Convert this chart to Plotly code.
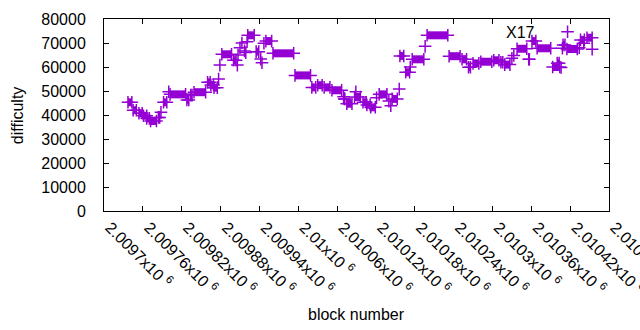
import plotly.graph_objects as go

# Segments of constant difficulty (first block, last block, difficulty)
seg_start = [2009737, 2009745, 2009754, 2009761, 2009766, 2009772, 2009784, 2009788, 2009792, 2009800,
             2009802, 2009828, 2009834, 2009839, 2009860, 2009865, 2009870, 2009877, 2009879, 2009882,
             2009900, 2009906, 2009907, 2009910, 2009913, 2009917, 2009919, 2009921, 2009922, 2009935,
             2009942, 2009944, 2009947, 2009950, 2009961, 2009995, 2010021, 2010030, 2010040, 2010052,
             2010070, 2010071, 2010075, 2010089, 2010087, 2010100, 2010106, 2010112, 2010121, 2010125,
             2010140, 2010143, 2010145, 2010156, 2010157, 2010166, 2010173, 2010176, 2010196, 2010199,
             2010233, 2010253, 2010263, 2010270, 2010282, 2010302, 2010313, 2010319, 2010330, 2010333,
             2010338, 2010356, 2010361, 2010369, 2010393, 2010400, 2010406, 2010408, 2010409, 2010415,
             2010416, 2010434, 2010436, 2010441, 2010446, 2010454]
seg_end = [2009743, 2009750, 2009759, 2009766, 2009770, 2009781, 2009786, 2009788, 2009797, 2009800,
           2009826, 2009831, 2009836, 2009857, 2009864, 2009869, 2009875, 2009877, 2009879, 2009897,
           2009904, 2009906, 2009907, 2009910, 2009913, 2009917, 2009919, 2009921, 2009932, 2009939,
           2009942, 2009944, 2009947, 2009959, 2009993, 2010019, 2010027, 2010037, 2010049, 2010067,
           2010070, 2010072, 2010083, 2010089, 2010096, 2010105, 2010111, 2010119, 2010121, 2010137,
           2010140, 2010143, 2010153, 2010156, 2010163, 2010172, 2010173, 2010194, 2010196, 2010231,
           2010250, 2010260, 2010266, 2010279, 2010299, 2010310, 2010316, 2010327, 2010330, 2010333,
           2010353, 2010357, 2010367, 2010390, 2010404, 2010403, 2010406, 2010408, 2010412, 2010431,
           2010416, 2010434, 2010442, 2010441, 2010454, 2010454]
seg_diff = [45300, 42000, 40700, 39700, 38600, 37500, 39000, 41100, 45300, 49700,
            48600, 46300, 48300, 49500, 53600, 52500, 51400, 55000, 60800, 65300,
            62800, 60800, 65000, 68000, 70000, 66700, 66000, 70500, 73200, 66400,
            63300, 61800, 69900, 70800, 65700, 56500, 51500, 52400, 51500, 50300,
            47600, 46700, 44700, 49700, 47500, 45300, 44200, 43200, 47200, 48600,
            45800, 43900, 46700, 50800, 64600, 57800, 60000, 63200, 68600, 73200,
            64500, 63200, 59900, 61500, 62200, 62800, 62000, 61000, 63600, 64800,
            67600, 63200, 70800, 67800, 60000, 61600, 59800, 67800, 69200, 67500,
            74700, 68000, 71300, 69900, 72200, 67400]

tick_vals = [2009700, 2009760, 2009820, 2009880, 2009940, 2010000, 2010060,
             2010120, 2010180, 2010240, 2010300, 2010360, 2010420, 2010480]
tick_text = ["2.0097", "2.00976", "2.00982", "2.00988", "2.00994", "2.01", "2.01006",
             "2.01012", "2.01018", "2.01024", "2.0103", "2.01036", "2.01042", "2.01048"]

purple = "#9400D3"
FONT = "Liberation Sans"

xs, ys = [], []
for s, e, d in zip(seg_start, seg_end, seg_diff):
    if s == e:
        xs += [s, None]
        ys += [d, None]
    else:
        xs += [s, e, None]
        ys += [d, d, None]

fig = go.Figure()
fig.add_trace(go.Scatter(
    x=xs, y=ys, mode="lines+markers", connectgaps=False,
    line=dict(color=purple, width=8),
    marker=dict(symbol="cross-thin", size=9, color=purple,
                line=dict(color=purple, width=1.5)),
    showlegend=False, hoverinfo="skip", cliponaxis=False))

fig.add_annotation(x=2010318, y=74400, xref="x", yref="y", text="X17",
                   showarrow=False, xanchor="left", yanchor="middle",
                   font=dict(family=FONT, size=16, color="black"))
fig.add_annotation(x=0.5, y=-0.54, xref="paper", yref="paper", text="block number",
                   showarrow=False, xanchor="center", yanchor="middle",
                   font=dict(family=FONT, size=16, color="black"))
fig.add_annotation(x=-0.172, y=0.5, xref="paper", yref="paper", text="difficulty",
                   showarrow=False, xanchor="center", yanchor="middle", textangle=-90,
                   font=dict(family=FONT, size=16, color="black"))

fig.update_layout(
    width=640, height=330,
    margin=dict(l=104, r=31, t=19, b=119, autoexpand=False),
    paper_bgcolor="white", plot_bgcolor="white",
    font=dict(family=FONT, size=16, color="black"),
)
fig.update_xaxes(range=[2009700, 2010480], tickvals=tick_vals,
                 ticktext=[t + "x10 <sup>6</sup>" for t in tick_text],
                 tickangle=45, ticks="inside", ticklen=5, tickcolor="black",
                 showline=True, linecolor="black", linewidth=1, mirror="ticks",
                 showgrid=False, zeroline=False, ticklabelstandoff=0, ticklabelshift=6,
                 automargin=False, ticklabeloverflow="allow")
fig.update_yaxes(range=[0, 80000], dtick=10000, tickformat="d",
                 ticks="inside", ticklen=5, tickcolor="black",
                 showline=True, linecolor="black", linewidth=1, mirror="ticks",
                 showgrid=False, zeroline=False, ticklabelstandoff=14, automargin=False)

fig.write_html("out.html", config={"displayModeBar": False},
               post_script="document.body.style.margin='0';document.body.style.overflow='hidden';")
